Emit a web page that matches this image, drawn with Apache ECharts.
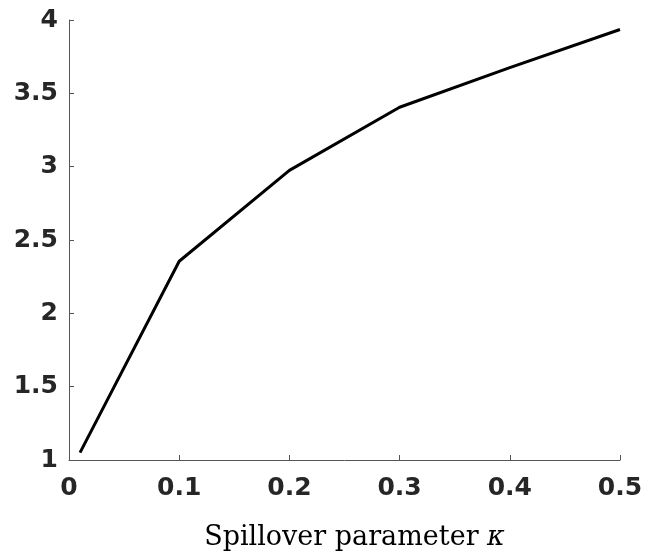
<!DOCTYPE html>
<html lang="en">
<head>
    <meta charset="UTF-8">
    <title>Spillover parameter</title>
    <script src="https://cdn.jsdelivr.net/npm/echarts@6/dist/echarts.min.js"></script>
    <style>body { margin: 0; background: #fff; }</style>
</head>
<body>
    <div id="main" style="width: 645px;height:559px;"></div>
    <script>
        var chartDom = document.getElementById('main');
        var myChart = echarts.init(chartDom);

        // values
        const kappa = [0.01, 0.1, 0.2, 0.3, 0.4, 0.5];
        const values = [1.05, 2.355, 2.975, 3.405, 3.675, 3.935];

        const labelFont = { fontFamily: 'DejaVu Sans', fontWeight: 'bold', fontSize: 25, color: '#262626' };

        var option = {
            animation: false,
            grid: { left: 69, right: 25, top: 20, bottom: 99, outerBoundsMode: 'none', containLabel: false },
            xAxis: {
                type: 'value',
                min: 0, max: 0.5, interval: 0.1,
                name: '{n|Spillover parameter }{k|κ}',
                nameLocation: 'middle',
                nameGap: 64,
                nameTextStyle: {
                    padding: [0, 0, 0, 20],
                    rich: {
                        n: { fontFamily: 'DejaVu Serif', fontSize: 27, color: '#000' },
                        k: { fontFamily: 'DejaVu Serif', fontStyle: 'italic', fontSize: 27, color: '#000' }
                    }
                },
                axisLine: { lineStyle: { color: '#555', width: 1 } },
                axisTick: { inside: true, length: 5, lineStyle: { color: '#555' } },
                axisLabel: Object.assign({ margin: 16, formatter: v => v === 0 ? '0' : String(v) }, labelFont),
                splitLine: { show: false }
            },
            yAxis: {
                type: 'value',
                min: 1, max: 4, interval: 0.5,
                axisLine: { show: true, lineStyle: { color: '#555', width: 1 } },
                axisTick: { show: true, inside: true, length: 5, lineStyle: { color: '#555' } },
                axisLabel: Object.assign({ margin: 11 }, labelFont),
                splitLine: { show: false }
            },
            series: [{
                type: 'line',
                data: kappa.map((k, i) => [k, values[i]]),
                showSymbol: false,
                lineStyle: { color: '#000', width: 3 }
            }]
        };

        myChart.setOption(option);
    </script>
</body>
</html>
